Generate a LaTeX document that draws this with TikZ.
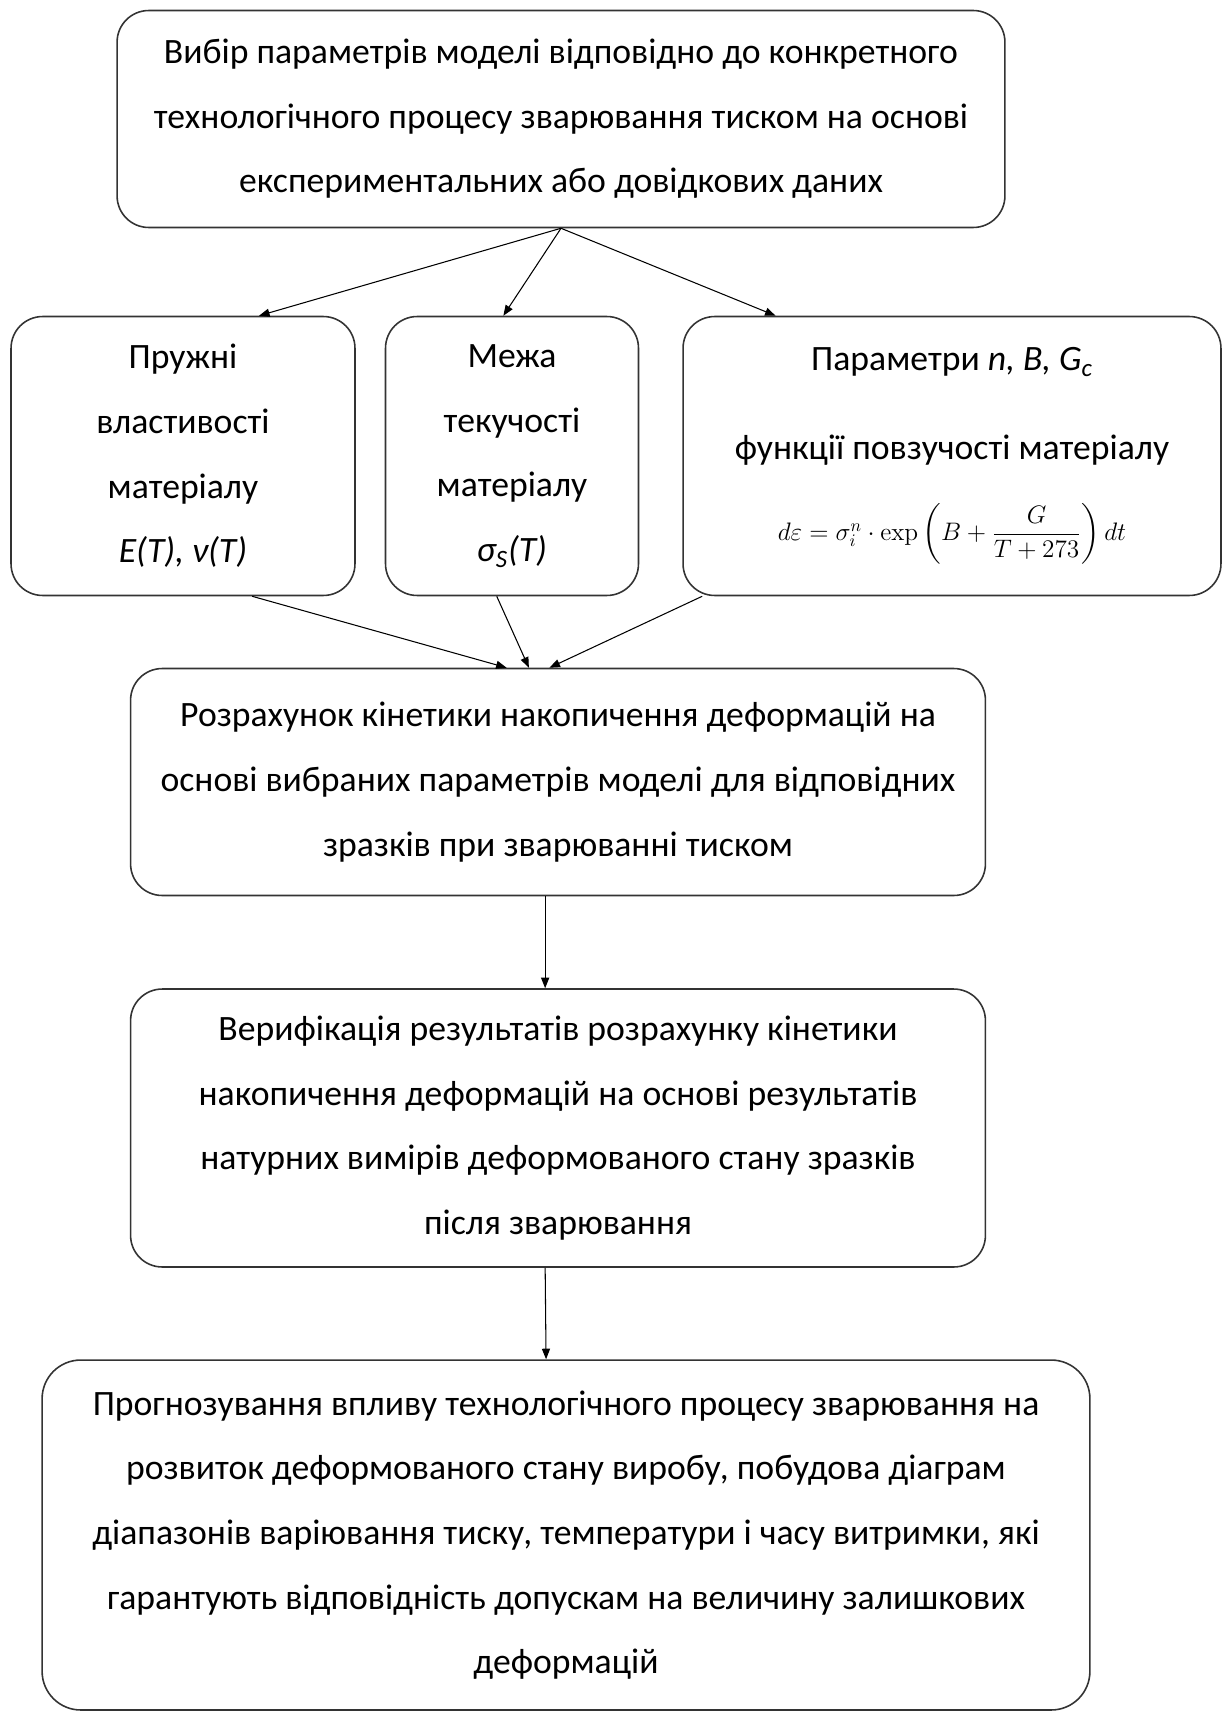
\documentclass[tikz,border=0pt]{standalone}
\usepackage{amsmath}
\usepackage[no-math]{fontspec}
\setmainfont{Carlito}
\usetikzlibrary{arrows.meta}
\usetikzlibrary{calc}

\begin{document}
\begin{tikzpicture}[x=0.02cm,y=-0.02cm,->,>={Triangle[length=6pt,width=4.6pt]},line width=0.6pt,
    main node/.style={draw=black!80,line width=0.9pt,rounded corners=18pt,align=center,inner sep=0pt,font=\fontsize{20.3pt}{36.8pt}\selectfont},
    formula/.style={font=\fontsize{14pt}{16pt}\selectfont}]
    \useasboundingbox (0,0) rectangle (1229,1713);
    % top box
    \node[main node,minimum width=17.76cm,minimum height=4.34cm] (vyb) at (561,119)
      {Вибір параметрів моделі відповідно до конкретного\\технологічного процесу зварювання тиском на основі\\експериментальних або довідкових даних};
    % three parameter boxes
    \node[main node,minimum width=6.88cm,minimum height=5.58cm] (pr) at (183,456)
      {Пружні\\властивості\\матеріалу\\\textit{E(T), ν(T)}};
    \node[main node,minimum width=5.06cm,minimum height=5.58cm] (mz) at (512,456)
      {Межа\\текучості\\матеріалу\\\textit{σ\textsubscript{S}(T)}};
    \node[main node,minimum width=10.76cm,minimum height=5.58cm] (par) at (952,456)
      {Параметри \textit{n, B, G\textsubscript{c}}\\[14pt]функції повзучості матеріалу\\[9pt]
       {\fontsize{14pt}{16pt}\selectfont$d\varepsilon=\sigma_i^n\cdot\exp\left(B+\dfrac{G}{T+273}\right)dt$}};
    % calculation, verification, forecast
    \node[main node,minimum width=17.10cm,minimum height=4.54cm] (roz) at (558,782)
      {Розрахунок кінетики накопичення деформацій на\\основі вибраних параметрів моделі для відповідних\\зразків при зварюванні тиском};
    \node[main node,minimum width=17.10cm,minimum height=5.56cm] (ver) at (558,1128)
      {Верифікація результатів розрахунку кінетики\\накопичення деформацій на основі результатів\\натурних вимірів деформованого стану зразків\\після зварювання};
    \node[main node,rounded corners=22pt,minimum width=20.96cm,minimum height=7.00cm] (prog) at (566,1535)
      {Прогнозування впливу технологічного процесу зварювання на\\розвиток деформованого стану виробу, побудова діаграм\\діапазонів варіювання тиску, температури і часу витримки, які\\гарантують відповідність допускам на величину залишкових\\деформацій};

    \path (vyb.south) edge ($(pr.north west)!0.72!(pr.north east)$);
    \path (vyb.south) edge ($(mz.north west)!0.466!(mz.north east)$);
    \path (vyb.south) edge ($(par.north west)!0.173!(par.north east)$);

    \path ($(pr.south west)!0.70!(pr.south east)$) edge ($(roz.north west)!0.44!(roz.north east)$);
    \path ($(mz.south west)!0.44!(mz.south east)$) edge ($(roz.north west)!0.466!(roz.north east)$);
    \path ($(par.south west)!0.037!(par.south east)$) edge ($(roz.north west)!0.49!(roz.north east)$);

    \path ($(roz.south west)!0.485!(roz.south east)$) edge ($(ver.north west)!0.485!(ver.north east)$);
    \path ($(ver.south west)!0.485!(ver.south east)$) edge ($(prog.north west)!0.481!(prog.north east)$);
  \end{tikzpicture}
\end{document}
